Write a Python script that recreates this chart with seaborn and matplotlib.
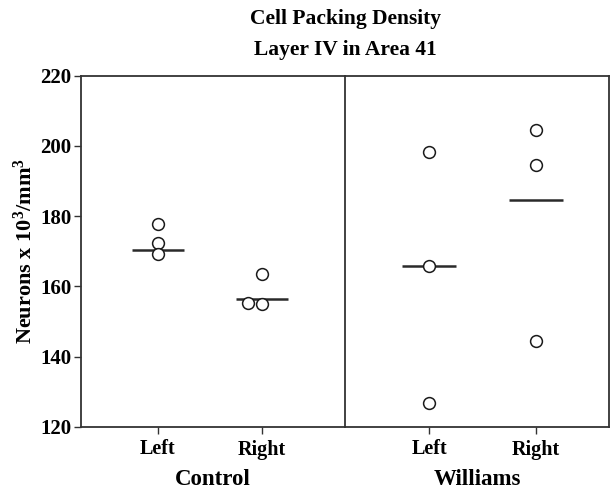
import matplotlib
matplotlib.use("Agg")
import matplotlib.pyplot as plt
import seaborn as sns
import pandas as pd
import numpy as np

# ---- data ----
groups = ["Control", "Williams"]
sides = ["Left", "Right"]
control_left = [177.8, 172.5, 169.2]
control_right = [163.6, 155.4, 155.0]
williams_left = [198.4, 165.7, 126.8]
williams_right = [204.6, 194.6, 144.5]
control_means = [170.4, 156.5]
williams_means = [165.7, 184.7]
y_ticks = [120, 140, 160, 180, 200, 220]
title_lines = ["Cell Packing Density", "Layer IV in Area 41"]
y_label = "Neurons x 10$^{\\mathbf{3}}$/mm$^{\\mathbf{3}}$"

rows = []
for g, vals in [("Control", [control_left, control_right]),
                ("Williams", [williams_left, williams_right])]:
    for s, v in zip(sides, vals):
        for x in v:
            rows.append({"group": g, "side": s, "density": x})
df = pd.DataFrame(rows)
means = {"Control": control_means, "Williams": williams_means}

sns.set_theme(style="ticks")
plt.rcParams["font.family"] = ["Liberation Serif", "DejaVu Serif"]
plt.rcParams["font.weight"] = "bold"
plt.rcParams["text.color"] = "black"
plt.rcParams["axes.labelcolor"] = "black"
plt.rcParams["mathtext.fontset"] = "custom"
plt.rcParams["mathtext.rm"] = "Liberation Serif:bold"
plt.rcParams["mathtext.bf"] = "Liberation Serif:bold"
plt.rcParams["mathtext.it"] = "Liberation Serif:bold"

W, H = 610, 492
fig = plt.figure(figsize=(W / 100, H / 100), dpi=100)
ax_w = 264 / W
ax_h = (427 - 75.7) / H
bottom = 1 - 427 / H
ax1 = fig.add_axes([81 / W, bottom, ax_w, ax_h])
ax2 = fig.add_axes([345 / W, bottom, ax_w, ax_h])
for ax in (ax1, ax2):
    ax.patch.set_visible(False)

spine_col = "#333333"
mk = dict(marker="o", size=8.5, facecolor="white", edgecolor="#1a1a1a", linewidth=1.1)
xlims = {"Control": (-0.74, 1.80), "Williams": (-0.785, 1.68)}

for ax, g in zip([ax1, ax2], groups):
    sub = df[df.group == g]
    # points that sit apart are drawn as a strip; near-ties are swarmed
    crowded = (sub.groupby("side")["density"]
               .transform(lambda v: np.diff(np.sort(v)).min() < 1.0))
    sns.stripplot(data=sub[~crowded], x="side", y="density", order=sides,
                  jitter=False, ax=ax, zorder=3, **mk)
    if crowded.any():
        sns.swarmplot(data=sub[crowded], x="side", y="density", order=sides,
                      ax=ax, zorder=3, **mk)
    for i, m in enumerate(means[g]):
        ax.hlines(m, i - 0.25, i + 0.25, color="#2a2a2a", lw=1.8, zorder=2)
    ax.set_xlim(*xlims[g])
    ax.set_ylim(120, 220)
    ax.set_xlabel(g, fontsize=16.5, fontweight="bold", labelpad=7)
    ax.tick_params(axis="x", length=5, width=1.0, color=spine_col,
                   labelsize=14.5, pad=4, labelcolor="black")
    for sp in ax.spines.values():
        sp.set_color(spine_col)
        sp.set_linewidth(1.3)
        sp.set_visible(True)
    for lab in ax.get_xticklabels():
        lab.set_fontweight("bold")

ax1.set_yticks(y_ticks)
ax1.set_yticklabels([str(t) for t in y_ticks], fontweight="bold")
ax1.tick_params(axis="y", length=5, width=1.0, color=spine_col,
                labelsize=15, pad=2, labelcolor="black")
ax1.set_ylabel(y_label, fontsize=16, fontweight="bold", labelpad=2)
ax2.set_yticks([])
ax2.set_ylabel("")
ax2.spines["left"].set_visible(False)

fig.text((81 + 609) / 2 / W, 1 - 19 / H, title_lines[0], ha="center",
         va="center", fontsize=15.5, fontweight="bold")
fig.text((81 + 609) / 2 / W, 1 - 50 / H, title_lines[1], ha="center",
         va="center", fontsize=15.5, fontweight="bold")

fig.savefig("out.png", dpi=100)
